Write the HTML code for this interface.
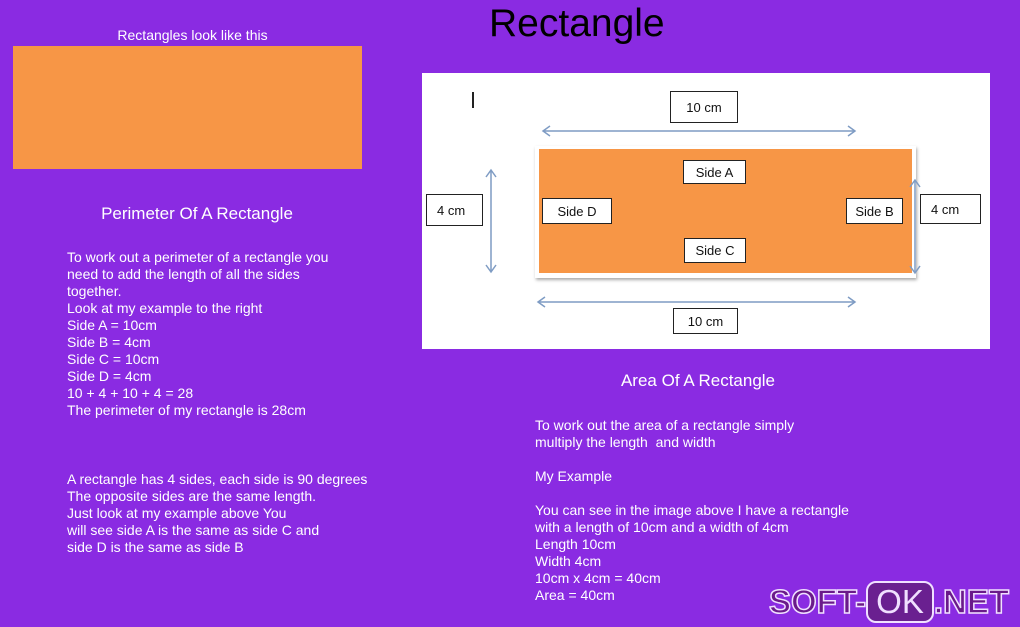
<!DOCTYPE html><html><head><style>
body{margin:0;width:1020px;height:627px;background:#8a2be2;position:relative;overflow:hidden;font-family:"Liberation Sans",sans-serif;color:#fff}
.a{position:absolute}
.t{font-size:14px;line-height:17px;white-space:pre}
.b{position:absolute;background:#fff;border:1px solid #222;color:#111;font-size:13px;box-sizing:border-box;display:flex;align-items:center;justify-content:center}
</style></head><body>
<div class="a" style="left:489px;top:2px;font-size:39px;color:#000">Rectangle</div>
<div class="a" style="left:0;width:385px;top:27px;text-align:center;font-size:14px">Rectangles look like this</div>
<div class="a" style="left:13px;top:46px;width:349px;height:123px;background:#f79646"></div>
<div class="a" style="left:0;width:394px;top:204px;text-align:center;font-size:17px">Perimeter Of A Rectangle</div>
<div class="a t" style="left:67px;top:249px">To work out a perimeter of a rectangle you
need to add the length of all the sides
together.
Look at my example to the right
Side A = 10cm
Side B = 4cm
Side C = 10cm
Side D = 4cm
10 + 4 + 10 + 4 = 28
The perimeter of my rectangle is 28cm</div>
<div class="a t" style="left:67px;top:471px">A rectangle has 4 sides, each side is 90 degrees
The opposite sides are the same length.
Just look at my example above You
will see side A is the same as side C and
side D is the same as side B</div>
<div class="a" style="left:422px;top:73px;width:568px;height:276px;background:#fff"></div>
<div class="a" style="left:535px;top:146px;width:381px;height:132px;background:#fff;box-shadow:1px 2px 3px #aaa"></div>
<div class="a" style="left:539px;top:149px;width:373px;height:124px;background:#f79646"></div>
<div class="a" style="left:472px;top:92px;width:2px;height:16px;background:#222"></div>
<svg class="a" style="left:0;top:0" width="1020" height="627"><g stroke="#7f9cc4" stroke-width="1.5" fill="none">
<path d="M543 131H855M550 126l-7 5 7 5M848 126l7 5-7 5"/>
<path d="M538 302H855M545 297l-7 5 7 5M848 297l7 5-7 5"/>
<path d="M491 170V272M486 177l5-7 5 7M486 265l5 7 5-7"/>
<path d="M915 180V273M910 187l5-7 5 7M910 266l5 7 5-7"/></g></svg>
<div class="b" style="left:670px;top:91px;width:68px;height:32px">10 cm</div>
<div class="b" style="left:683px;top:160px;width:63px;height:24px">Side A</div>
<div class="b" style="left:542px;top:198px;width:70px;height:26px">Side D</div>
<div class="b" style="left:846px;top:198px;width:57px;height:26px">Side B</div>
<div class="b" style="left:684px;top:238px;width:62px;height:25px">Side C</div>
<div class="b" style="left:426px;top:194px;width:57px;height:32px;justify-content:flex-start;padding-left:10px">4 cm</div>
<div class="b" style="left:920px;top:194px;width:61px;height:30px;justify-content:flex-start;padding-left:10px">4 cm</div>
<div class="b" style="left:673px;top:308px;width:65px;height:26px">10 cm</div>
<div class="a" style="left:410px;width:576px;top:371px;text-align:center;font-size:17px">Area Of A Rectangle</div>
<div class="a t" style="left:535px;top:417px">To work out the area of a rectangle simply
multiply the length  and width

My Example

You can see in the image above I have a rectangle
with a length of 10cm and a width of 4cm
Length 10cm
Width 4cm
10cm x 4cm = 40cm
Area = 40cm</div>
<div class="a" style="left:769px;top:581px;font-size:33px;font-weight:bold;color:#6a1a8a;-webkit-text-stroke:1.5px #f0e0ff;white-space:nowrap">SOFT-<span style="display:inline-block;background:#6a2090;border:2px solid #f0e0ff;border-radius:10px;padding:0 8px;font-weight:normal;color:#f0e0ff;-webkit-text-stroke:0">OK</span>.NET</div>
</body></html>
